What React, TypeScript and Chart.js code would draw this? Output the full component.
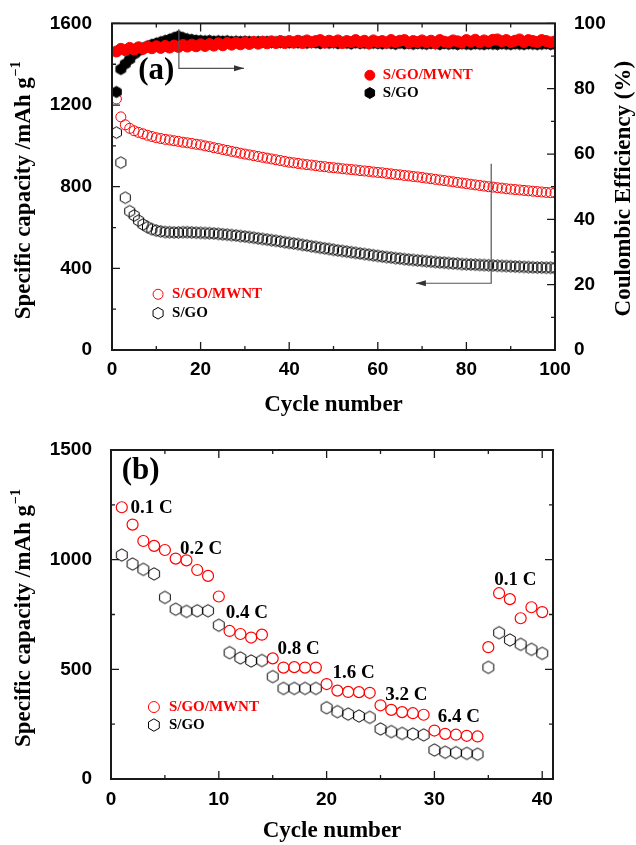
import React, { useEffect, useRef } from "react";
import { Chart, registerables } from "chart.js";

Chart.register(...registerables);

// ---------------- Panel (a): long-term cycling ----------------
const CAPACITY_MWNT_A = [
  1230, 1142, 1103, 1086, 1074, 1066, 1059, 1052, 1046, 1040,
  1036, 1032, 1029, 1025, 1022, 1018, 1015, 1012, 1008, 1005,
  1000, 996, 991, 987, 982, 978, 973, 969, 964, 960,
  956, 952, 948, 944, 940, 936, 932, 928, 924, 920,
  917, 914, 911, 908, 906, 903, 900, 898, 895, 893,
  891, 888, 886, 884, 882, 879, 877, 875, 872, 870,
  868, 865, 863, 860, 858, 855, 853, 850, 848, 845,
  842, 839, 836, 833, 830, 827, 824, 821, 818, 815,
  812, 809, 806, 803, 800, 798, 795, 793, 790, 788,
  786, 784, 782, 780, 778, 776, 774, 772, 771, 770,
];
const CAPACITY_GO_A = [
  1065, 918, 746, 680, 659, 634, 615, 602, 592, 585,
  581, 578, 577, 576, 576, 577, 577, 576, 575, 574,
  573, 572, 571, 569, 567, 565, 563, 561, 558, 556,
  553, 550, 547, 544, 541, 538, 535, 532, 528, 525,
  522, 519, 515, 512, 508, 505, 501, 498, 495, 491,
  488, 485, 482, 479, 476, 473, 470, 467, 464, 461,
  458, 455, 453, 450, 448, 445, 443, 441, 439, 437,
  435, 433, 431, 429, 428, 426, 424, 423, 421, 420,
  419, 418, 417, 416, 415, 414, 413, 412, 411, 410,
  409, 408, 407, 406, 405, 404, 404, 403, 403, 402,
];
const CE_MWNT_A = [
  91.4, 92.2, 91.8, 92.5, 92.0, 92.7, 92.2, 92.9, 92.4, 93.0,
  92.5, 93.1, 92.6, 93.2, 92.8, 93.4, 92.9, 93.5, 93.0, 93.6,
  93.1, 93.7, 93.2, 93.9, 93.3, 94.0, 93.5, 94.1, 93.6, 94.2,
  93.7, 94.3, 93.8, 94.4, 93.9, 94.5, 94.0, 94.6, 94.0, 94.6,
  94.1, 94.7, 94.0, 94.8, 94.2, 94.6, 94.9, 94.1, 94.7, 94.3,
  94.8, 94.0, 94.6, 94.3, 94.9, 94.2, 94.7, 94.0, 94.8, 94.3,
  94.6, 94.1, 94.9, 94.3, 94.7, 94.9, 94.1, 94.6, 94.3, 94.8,
  94.2, 94.7, 94.0, 94.9, 94.4, 94.2, 94.8, 94.5, 94.1, 94.9,
  94.4, 95.0, 94.2, 94.8, 94.4, 95.0, 95.1, 94.5, 94.9, 94.3,
  94.7, 95.1, 94.3, 94.9, 94.6, 94.3, 94.9, 94.6, 94.2, 94.5,
];
const CE_GO_A = [
  79.0, 86.0, 87.6, 89.0, 90.6, 91.6, 92.4, 93.0, 93.5, 93.9,
  94.3, 94.7, 95.1, 95.6, 96.1, 95.6, 95.2, 95.0, 94.8, 94.7,
  94.6, 94.7, 94.5, 94.6, 94.5, 94.6, 94.4, 94.5, 94.4, 94.5,
  94.4, 94.3, 94.4, 94.3, 94.4, 94.2, 94.3, 94.2, 94.3, 94.1,
  94.2, 94.1, 94.3, 94.0, 94.2, 94.1, 93.9, 94.2, 94.0, 94.1,
  93.9, 94.1, 94.0, 93.8, 94.1, 93.9, 94.0, 93.8, 94.0, 93.9,
  93.8, 94.0, 93.9, 93.7, 94.0, 93.8, 93.9, 93.7, 93.9, 93.8,
  93.7, 93.9, 93.8, 93.6, 93.9, 93.7, 93.8, 93.6, 93.8, 93.7,
  93.6, 93.8, 93.7, 93.6, 93.8, 93.7, 93.6, 93.8, 93.7, 93.6,
  93.8, 93.7, 93.6, 93.8, 93.7, 93.6, 93.7, 93.8, 93.6, 93.7,
];
const X_TICKS_A = [0, 20, 40, 60, 80, 100];
const Y_TICKS_A = [0, 400, 800, 1200, 1600];
const Y2_TICKS_A = [0, 20, 40, 60, 80, 100];

// ---------------- Panel (b): rate capability ----------------
const CAPACITY_MWNT_B = [
  1239, 1160, 1085, 1063, 1044, 1005, 997, 953, 926, 832,
  675, 661, 645, 658, 550, 508, 510, 508, 508, 433,
  403, 397, 396, 393, 336, 315, 305, 300, 293, 221,
  206, 202, 197, 194, 601, 847, 820, 733, 783, 761,
];
const CAPACITY_GO_B = [
  1021, 980, 956, 935, 828, 774, 764, 767, 767, 701,
  576, 552, 538, 540, 467, 413, 413, 413, 413, 325,
  307, 296, 287, 281, 228, 216, 208, 205, 201, 132,
  122, 120, 117, 113, 509, 667, 634, 614, 591, 573,
];
const RATE_LABELS = ["0.1 C", "0.2 C", "0.4 C", "0.8 C", "1.6 C", "3.2 C", "6.4 C", "0.1 C"];
const X_TICKS_B = [0, 10, 20, 30, 40];
const Y_TICKS_B = [0, 500, 1000, 1500];

const SERIES_NAMES = ["S/GO/MWNT", "S/GO"];

// ---------------- styling / layout (not data) ----------------
const RED = "#ff0000";
const BLACK = "#000000";
const AXIS = "#1a1a1a";
const TICK_FONT = { family: "'Liberation Sans', Arial, sans-serif", size: 19, weight: "bold" as const };
const SERIF = "'Liberation Serif', 'Times New Roman', serif";
const TITLE_FONT = `bold 23px ${SERIF}`;

// annotation anchors, in data units of each panel
const RATE_LABEL_POS: [number, number][] = [
  [1.8, 1236], [6.4, 1049], [10.65, 757], [15.45, 593],
  [20.55, 483], [25.45, 383], [30.3, 283], [35.55, 907],
];

function hexPath(ctx: CanvasRenderingContext2D, cx: number, cy: number, r: number) {
  ctx.beginPath();
  for (let i = 0; i < 6; i++) {
    const a = (Math.PI / 180) * (60 * i - 90);
    const px = cx + r * Math.cos(a);
    const py = cy + r * Math.sin(a);
    if (i === 0) ctx.moveTo(px, py);
    else ctx.lineTo(px, py);
  }
  ctx.closePath();
}

function makeHexImage(r: number, filled: boolean, lw: number) {
  const size = Math.ceil(2 * r + lw + 2);
  const c = document.createElement("canvas");
  c.width = size;
  c.height = size;
  const ctx = c.getContext("2d")!;
  hexPath(ctx, size / 2, size / 2, r);
  if (filled) {
    ctx.fillStyle = BLACK;
    ctx.fill();
  }
  ctx.strokeStyle = BLACK;
  ctx.lineWidth = lw;
  ctx.stroke();
  return c;
}

function drawCircle(ctx: CanvasRenderingContext2D, x: number, y: number, r: number, filled: boolean, color: string, lw = 1) {
  ctx.beginPath();
  ctx.arc(x, y, r, 0, Math.PI * 2);
  if (filled) {
    ctx.fillStyle = color;
    ctx.fill();
  }
  ctx.strokeStyle = color;
  ctx.lineWidth = lw;
  ctx.stroke();
}

function drawHex(ctx: CanvasRenderingContext2D, x: number, y: number, r: number, filled: boolean, lw = 1) {
  hexPath(ctx, x, y, r);
  if (filled) {
    ctx.fillStyle = BLACK;
    ctx.fill();
  }
  ctx.strokeStyle = BLACK;
  ctx.lineWidth = lw;
  ctx.stroke();
}

const toPoints = (arr: number[]) => arr.map((y, i) => ({ x: i + 1, y }));
const fixedTicks = (vals: number[]) => (s: any) => {
  s.ticks = vals.map((v) => ({ value: v }));
};
const plainLabel = (v: any) => String(v);
const midpoints = (vals: number[]) => vals.slice(1).map((v, i) => (v + vals[i]) / 2);

function drawFrame(chart: any, rightId: string | null) {
  const ctx: CanvasRenderingContext2D = chart.ctx;
  const a = chart.chartArea;
  const xs = chart.scales.x;
  const ys = chart.scales.y;
  const rs = rightId ? chart.scales[rightId] : ys;
  const MAJ = 8;
  const MIN = 4;
  const xv = xs.ticks.map((t: any) => t.value);
  const yv = ys.ticks.map((t: any) => t.value);
  const rv = rs.ticks.map((t: any) => t.value);
  ctx.save();
  ctx.strokeStyle = AXIS;
  ctx.lineWidth = 1.3;
  ctx.beginPath();
  const vx = (vals: number[], len: number) => {
    for (const v of vals) {
      const p = xs.getPixelForValue(v);
      ctx.moveTo(p, a.bottom);
      ctx.lineTo(p, a.bottom - len);
      ctx.moveTo(p, a.top);
      ctx.lineTo(p, a.top + len);
    }
  };
  const hy = (scale: any, vals: number[], len: number, left: boolean) => {
    for (const v of vals) {
      const p = scale.getPixelForValue(v);
      if (left) {
        ctx.moveTo(a.left, p);
        ctx.lineTo(a.left + len, p);
      } else {
        ctx.moveTo(a.right, p);
        ctx.lineTo(a.right - len, p);
      }
    }
  };
  vx(xv, MAJ);
  vx(midpoints(xv), MIN);
  hy(ys, yv, MAJ, true);
  hy(ys, midpoints(yv), MIN, true);
  hy(rs, rv, MAJ, false);
  hy(rs, midpoints(rv), MIN, false);
  ctx.stroke();
  ctx.lineWidth = 2;
  ctx.strokeRect(a.left, a.top, a.right - a.left, a.bottom - a.top);
  ctx.restore();
}

function drawRotatedTitle(ctx: CanvasRenderingContext2D, x: number, y: number, text: string, sup: string) {
  ctx.save();
  ctx.translate(x, y);
  ctx.rotate(-Math.PI / 2);
  ctx.fillStyle = BLACK;
  ctx.textBaseline = "alphabetic";
  ctx.textAlign = "left";
  ctx.font = TITLE_FONT;
  const w1 = ctx.measureText(text).width;
  ctx.font = `bold 14px ${SERIF}`;
  const w2 = sup ? ctx.measureText(sup).width : 0;
  const start = -(w1 + w2) / 2;
  ctx.font = TITLE_FONT;
  ctx.fillText(text, start, 0);
  if (sup) {
    ctx.font = `bold 14px ${SERIF}`;
    ctx.fillText(sup, start + w1 + 1, -10);
  }
  ctx.restore();
}

function drawText(ctx: CanvasRenderingContext2D, text: string, x: number, y: number, font: string, color: string, align: CanvasTextAlign = "left") {
  ctx.save();
  ctx.font = font;
  ctx.fillStyle = color;
  ctx.textAlign = align;
  ctx.textBaseline = "middle";
  ctx.fillText(text, x, y);
  ctx.restore();
}

function drawArrow(ctx: CanvasRenderingContext2D, pts: [number, number][]) {
  ctx.save();
  ctx.strokeStyle = "#555";
  ctx.lineWidth = 1.2;
  ctx.beginPath();
  pts.forEach(([x, y], i) => (i === 0 ? ctx.moveTo(x, y) : ctx.lineTo(x, y)));
  ctx.stroke();
  const [x1, y1] = pts[pts.length - 2];
  const [x2, y2] = pts[pts.length - 1];
  const ang = Math.atan2(y2 - y1, x2 - x1);
  ctx.fillStyle = "#333";
  ctx.beginPath();
  ctx.moveTo(x2, y2);
  ctx.lineTo(x2 - 10 * Math.cos(ang) + 3 * Math.sin(ang), y2 - 10 * Math.sin(ang) - 3 * Math.cos(ang));
  ctx.lineTo(x2 - 10 * Math.cos(ang) - 3 * Math.sin(ang), y2 - 10 * Math.sin(ang) + 3 * Math.cos(ang));
  ctx.closePath();
  ctx.fill();
  ctx.restore();
}

function drawXTitle(ctx: CanvasRenderingContext2D, chart: any, baseline: number) {
  const a = chart.chartArea;
  ctx.save();
  ctx.font = TITLE_FONT;
  ctx.fillStyle = BLACK;
  ctx.textAlign = "center";
  ctx.textBaseline = "alphabetic";
  ctx.fillText("Cycle number", (a.left + a.right) / 2, baseline);
  ctx.restore();
}

const decorA = {
  id: "decorA",
  afterDraw(chart: any) {
    const ctx: CanvasRenderingContext2D = chart.ctx;
    const xs = chart.scales.x;
    const ys = chart.scales.y;
    const P = (x: number, y: number): [number, number] => [xs.getPixelForValue(x), ys.getPixelForValue(y)];
    drawFrame(chart, "y2");
    drawArrow(ctx, [P(15.1, 1571), P(15.1, 1380), P(29.8, 1380)]);
    drawArrow(ctx, [P(85.6, 912), P(85.6, 327), P(68.6, 327)]);
    const [ax, ay] = P(5.9, 1368);
    drawText(ctx, "(a)", ax, ay, `bold 31px ${SERIF}`, BLACK);
    let [lx, ly] = P(58.2, 1346);
    drawCircle(ctx, lx, ly, 5, true, RED);
    drawText(ctx, SERIES_NAMES[0], lx + 13, ly, `bold 15px ${SERIF}`, RED);
    [lx, ly] = P(58.2, 1259);
    drawHex(ctx, lx, ly, 5.5, true);
    drawText(ctx, SERIES_NAMES[1], lx + 13, ly, `bold 15px ${SERIF}`, BLACK);
    [lx, ly] = P(10.4, 273);
    drawCircle(ctx, lx, ly, 5, false, RED);
    drawText(ctx, SERIES_NAMES[0], lx + 14, ly, `bold 15px ${SERIF}`, RED);
    [lx, ly] = P(10.4, 180);
    drawHex(ctx, lx, ly, 5.8, false);
    drawText(ctx, SERIES_NAMES[1], lx + 14, ly, `bold 15px ${SERIF}`, BLACK);
    const a = chart.chartArea;
    drawRotatedTitle(ctx, 30, (a.top + a.bottom) / 2 + 4, "Specific capacity /mAh g", "\u22121");
    drawRotatedTitle(ctx, 630, (a.top + a.bottom) / 2 + 2, "Coulombic Efficiency (%)", "");
    drawXTitle(ctx, chart, 411);
  },
};

const decorB = {
  id: "decorB",
  afterDraw(chart: any) {
    const ctx: CanvasRenderingContext2D = chart.ctx;
    const xs = chart.scales.x;
    const ys = chart.scales.y;
    const P = (x: number, y: number): [number, number] => [xs.getPixelForValue(x), ys.getPixelForValue(y)];
    drawFrame(chart, null);
    const [bx, by] = P(1.0, 1404);
    drawText(ctx, "(b)", bx, by, `bold 31px ${SERIF}`, BLACK);
    RATE_LABELS.forEach((t, i) => {
      const [x, y] = P(RATE_LABEL_POS[i][0], RATE_LABEL_POS[i][1]);
      drawText(ctx, t, x, y, `bold 19px ${SERIF}`, BLACK);
    });
    let [lx, ly] = P(3.98, 328);
    drawCircle(ctx, lx, ly, 5.5, false, RED);
    drawText(ctx, SERIES_NAMES[0], lx + 15, ly, `bold 15px ${SERIF}`, RED);
    [lx, ly] = P(3.98, 246);
    drawHex(ctx, lx, ly, 6.2, false);
    drawText(ctx, SERIES_NAMES[1], lx + 15, ly, `bold 15px ${SERIF}`, BLACK);
    const a = chart.chartArea;
    drawRotatedTitle(ctx, 30, (a.top + a.bottom) / 2 + 4, "Specific capacity /mAh g", "\u22121");
    drawXTitle(ctx, chart, 415);
  },
};

const hiddenGrid = { grid: { display: false }, border: { display: false } };

function configA(): any {
  const hexOpen = makeHexImage(5.8, false, 1);
  const hexFilled = makeHexImage(5.6, true, 1);
  return {
    type: "scatter",
    data: {
      datasets: [
        {
          label: SERIES_NAMES[0] + " CE",
          data: toPoints(CE_MWNT_A),
          yAxisID: "y2",
          pointStyle: "circle",
          pointRadius: 5.5,
          backgroundColor: RED,
          borderColor: RED,
          borderWidth: 1,
          order: 1,
        },
        {
          label: SERIES_NAMES[1] + " CE",
          data: toPoints(CE_GO_A),
          yAxisID: "y2",
          pointStyle: hexFilled,
          pointRadius: 6,
          backgroundColor: BLACK,
          borderColor: BLACK,
          order: 2,
        },
        {
          label: SERIES_NAMES[0],
          data: toPoints(CAPACITY_MWNT_A),
          yAxisID: "y",
          pointStyle: "circle",
          pointRadius: 5,
          backgroundColor: "rgba(0,0,0,0)",
          borderColor: RED,
          borderWidth: 1,
          order: 3,
        },
        {
          label: SERIES_NAMES[1],
          data: toPoints(CAPACITY_GO_A),
          yAxisID: "y",
          pointStyle: hexOpen,
          pointRadius: 6,
          backgroundColor: "rgba(0,0,0,0)",
          borderColor: BLACK,
          order: 4,
        },
      ],
    },
    options: {
      responsive: false,
      animation: false,
      devicePixelRatio: 1,
      events: [],
      layout: { padding: { top: 22, left: 0, right: 0, bottom: 0 } },
      plugins: { legend: { display: false }, tooltip: { enabled: false } },
      scales: {
        x: {
          type: "linear",
          min: 0,
          max: 100,
          ...hiddenGrid,
          afterBuildTicks: fixedTicks(X_TICKS_A),
          afterFit: (s: any) => { s.height = 72; },
          ticks: { font: TICK_FONT, color: BLACK, padding: 0, maxRotation: 0, callback: plainLabel },
        },
        y: {
          type: "linear",
          position: "left",
          min: 0,
          max: 1600,
          ...hiddenGrid,
          afterBuildTicks: fixedTicks(Y_TICKS_A),
          afterFit: (s: any) => { s.width = 112; },
          ticks: { font: TICK_FONT, color: BLACK, padding: 12, callback: plainLabel },
        },
        y2: {
          type: "linear",
          position: "right",
          min: 0,
          max: 100,
          ...hiddenGrid,
          afterBuildTicks: fixedTicks(Y2_TICKS_A),
          afterFit: (s: any) => { s.width = 81; },
          ticks: { font: TICK_FONT, color: BLACK, padding: 11, callback: plainLabel },
        },
      },
    },
    plugins: [decorA],
  };
}

function configB(): any {
  const hexOpen = makeHexImage(6.2, false, 1);
  return {
    type: "scatter",
    data: {
      datasets: [
        {
          label: SERIES_NAMES[0],
          data: toPoints(CAPACITY_MWNT_B),
          pointStyle: "circle",
          pointRadius: 5.5,
          backgroundColor: "rgba(0,0,0,0)",
          borderColor: RED,
          borderWidth: 1.2,
        },
        {
          label: SERIES_NAMES[1],
          data: toPoints(CAPACITY_GO_B),
          pointStyle: hexOpen,
          pointRadius: 6,
          backgroundColor: "rgba(0,0,0,0)",
          borderColor: BLACK,
        },
      ],
    },
    options: {
      responsive: false,
      animation: false,
      devicePixelRatio: 1,
      events: [],
      layout: { padding: { top: 28, left: 0, right: 83, bottom: 0 } },
      plugins: { legend: { display: false }, tooltip: { enabled: false } },
      scales: {
        x: {
          type: "linear",
          min: 0,
          max: 41,
          ...hiddenGrid,
          afterBuildTicks: fixedTicks(X_TICKS_B),
          afterFit: (s: any) => { s.height = 66; },
          ticks: { font: TICK_FONT, color: BLACK, padding: 1, maxRotation: 0, callback: plainLabel },
        },
        y: {
          type: "linear",
          position: "left",
          min: 0,
          max: 1500,
          ...hiddenGrid,
          afterBuildTicks: fixedTicks(Y_TICKS_B),
          afterFit: (s: any) => { s.width = 111; },
          ticks: { font: TICK_FONT, color: BLACK, padding: 11, callback: plainLabel },
        },
      },
    },
    plugins: [decorB],
  };
}

export default function App() {
  const topRef = useRef<HTMLCanvasElement>(null);
  const botRef = useRef<HTMLCanvasElement>(null);
  useEffect(() => {
    const c1 = new Chart(topRef.current!, configA());
    const c2 = new Chart(botRef.current!, configB());
    return () => {
      c1.destroy();
      c2.destroy();
    };
  }, []);
  return (
    <div style={{ position: "absolute", left: 0, top: 0, width: 636, height: 845, background: "#fff" }}>
      <canvas ref={topRef} width={636} height={422} style={{ position: "absolute", left: 0, top: 0, display: "block" }} />
      <canvas ref={botRef} width={636} height={423} style={{ position: "absolute", left: 0, top: 422, display: "block" }} />
    </div>
  );
}
